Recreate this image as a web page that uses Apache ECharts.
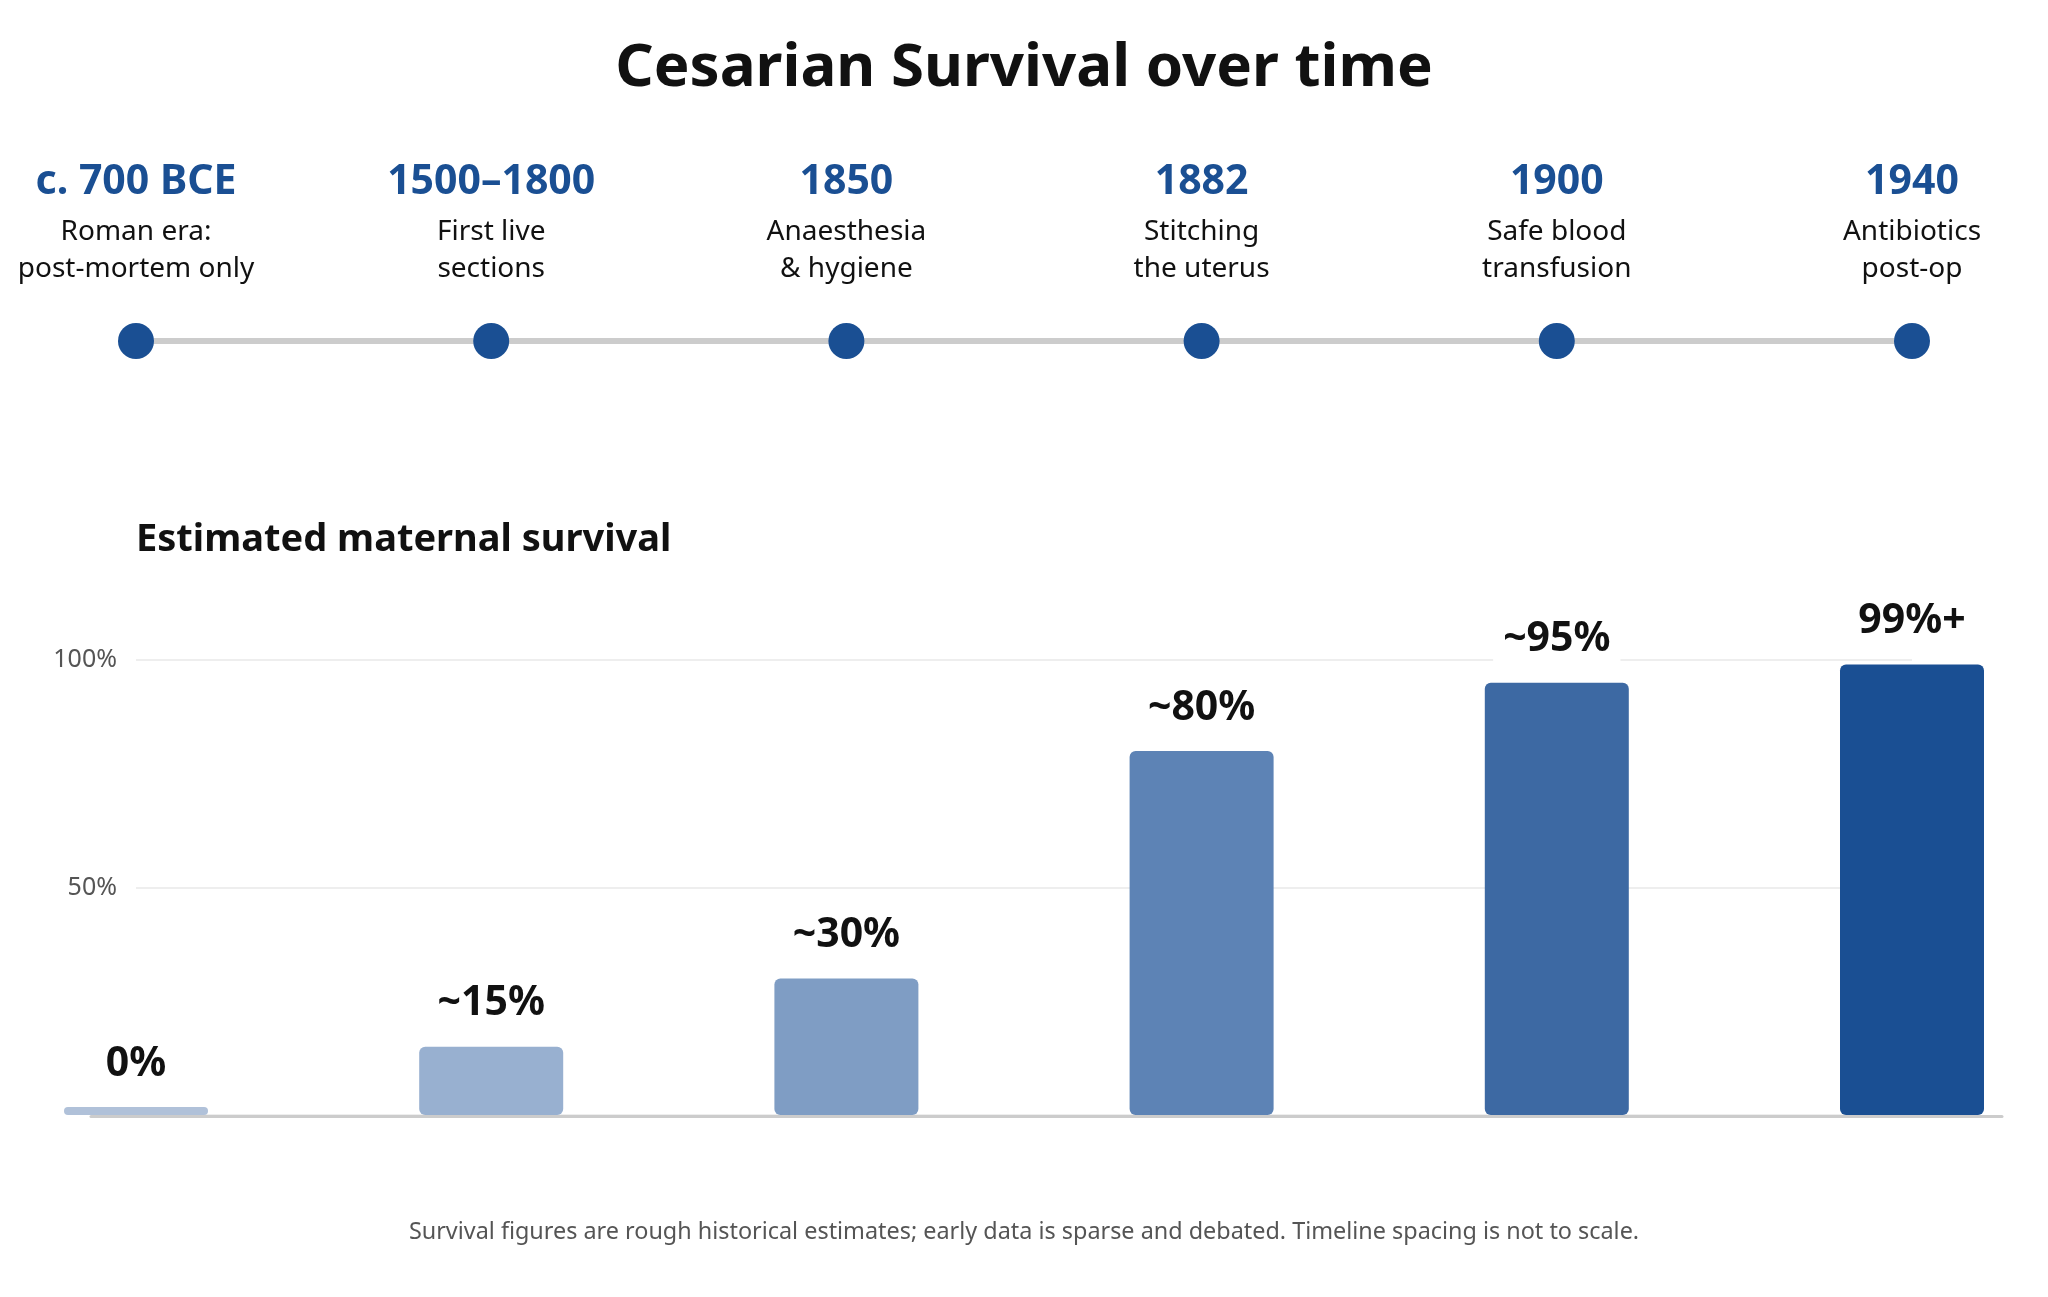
<!DOCTYPE html>
<html>
<head>
<meta charset="utf-8">
<script src="https://cdn.jsdelivr.net/npm/echarts@6/dist/echarts.min.js"></script>
<style>
  html, body { margin: 0; padding: 0; background: #fff; }
  #chart { width: 2048px; height: 1297px; }
</style>
</head>
<body>
<div id="chart"></div>
<script>
// timeline milestones
var years = ['c. 700 BCE', '1500\u20131800', '1850', '1882', '1900', '1940'];
var milestones = [
    ['Roman era:', 'post-mortem only'],
    ['First live', 'sections'],
    ['Anaesthesia', '& hygiene'],
    ['Stitching', 'the uterus'],
    ['Safe blood', 'transfusion'],
    ['Antibiotics', 'post-op']
];
var timelineLevel = [0, 0, 0, 0, 0, 0];

// estimated maternal survival (%)
var survival = [0, 15, 30, 80, 95, 99];
var survivalLabels = ['0%', '~15%', '~30%', '~80%', '~95%', '99%+'];
var yTicks = [0, 50, 100];

var barColors = ['#b0c1d9', '#98b0d0', '#7f9dc4', '#5d83b5', '#3d69a3', '#1a4f93'];
var blue = '#1a4f93';
var font = 'Noto Sans';

var dom = document.getElementById('chart');
var myChart = echarts.init(dom, null, { renderer: 'canvas' });

var option = {
    backgroundColor: '#fff',
    textStyle: { fontFamily: font },
    animation: false,
    title: [
        {
            text: 'Cesarian Survival over time',
            left: 'center',
            top: 33,
            padding: 0,
            textStyle: { fontFamily: font, fontSize: 60, fontWeight: 'bold', color: '#111', lineHeight: 72 }
        },
        {
            text: 'Estimated maternal survival',
            left: 136,
            top: 518,
            padding: 0,
            textStyle: { fontFamily: font, fontSize: 38, fontWeight: 'bold', color: '#111', lineHeight: 44 }
        },
        {
            text: 'Survival figures are rough historical estimates; early data is sparse and debated. Timeline spacing is not to scale.',
            left: 'center',
            top: 1216,
            padding: 0,
            textStyle: { fontFamily: font, fontSize: 23.4, fontWeight: 'normal', color: '#555', lineHeight: 32 }
        }
    ],
    grid: [
        { left: 136, right: 136, top: 660, bottom: 182 },   // bars
        { left: 91, right: 46, top: 660, bottom: 181 },     // baseline
        { left: 136, right: 136, top: 300, height: 82 }     // timeline
    ],
    xAxis: [
        {
            gridIndex: 0,
            type: 'category',
            data: years,
            boundaryGap: false,
            axisLine: { show: false },
            axisTick: { show: false },
            axisLabel: { show: false }
        },
        {
            gridIndex: 1,
            type: 'value',
            min: 0,
            max: 1,
            axisLine: { show: true, lineStyle: { color: '#cccccc', width: 3 } },
            axisTick: { show: false },
            axisLabel: { show: false },
            splitLine: { show: false }
        },
        {
            gridIndex: 2,
            type: 'category',
            data: years,
            boundaryGap: false,
            show: false
        }
    ],
    yAxis: [
        {
            gridIndex: 0,
            type: 'value',
            min: yTicks[0],
            max: yTicks[yTicks.length - 1],
            interval: 50,
            axisLine: { show: false },
            axisTick: { show: false },
            axisLabel: {
                margin: 19,
                fontSize: 25,
                color: '#555',
                fontFamily: font,
                formatter: function (v) { return v === 0 ? '' : v + '%'; }
            },
            splitLine: { lineStyle: { color: '#e8e8e8', width: 1.5 } }
        },
        {
            gridIndex: 1,
            type: 'value',
            show: false
        },
        {
            gridIndex: 2,
            type: 'value',
            min: -1,
            max: 1,
            show: false
        }
    ],
    series: [
        {
            type: 'bar',
            xAxisIndex: 0,
            yAxisIndex: 0,
            barWidth: 144,
            barMinHeight: 8,
            clip: false,
            z: 3,
            data: survival.map(function (v, i) {
                return { value: v, itemStyle: { color: barColors[i] } };
            }),
            itemStyle: { borderRadius: 6 },
            label: {
                show: true,
                position: 'top',
                distance: 17,
                backgroundColor: '#fff',
                padding: [2, 10],
                fontFamily: font,
                fontSize: 41,
                lineHeight: 48,
                fontWeight: 'bold',
                color: '#111',
                formatter: function (p) { return survivalLabels[p.dataIndex]; }
            }
        },
        {
            type: 'line',
            xAxisIndex: 2,
            yAxisIndex: 2,
            data: timelineLevel,
            symbol: 'circle',
            symbolSize: 36,
            lineStyle: { color: '#cccccc', width: 6 },
            itemStyle: { color: blue },
            label: {
                show: true,
                position: 'top',
                distance: 35,
                align: 'center',
                formatter: function (p) {
                    var m = milestones[p.dataIndex];
                    return '{y|' + years[p.dataIndex] + '}\n{d|' + m[0] + '}\n{d|' + m[1] + '}';
                },
                rich: {
                    y: { fontFamily: font, fontSize: 41, fontWeight: 'bold', color: blue, lineHeight: 64, align: 'center' },
                    d: { fontFamily: font, fontSize: 28, color: '#111', lineHeight: 37, align: 'center' }
                }
            }
        }
    ]
};

if (option && typeof option === 'object') {
    myChart.setOption(option);
}
</script>
</body>
</html>
